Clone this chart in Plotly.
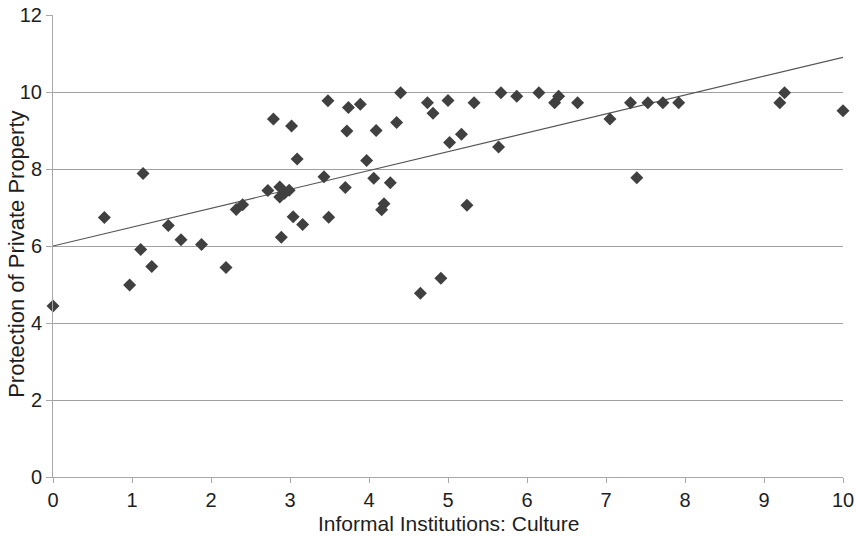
import plotly.graph_objects as go

# Informal institutions (culture score) vs. protection of private property
culture = [0.00, 0.65, 0.97, 1.11, 1.14, 1.25, 1.46, 1.62, 1.88, 2.19,
           2.32, 2.40, 2.72, 2.79, 2.87, 2.87, 2.89, 2.93, 2.99, 3.02,
           3.04, 3.09, 3.16, 3.43, 3.48, 3.49, 3.70, 3.72, 3.74, 3.89,
           3.97, 4.06, 4.09, 4.16, 4.19, 4.27, 4.35, 4.40, 4.65, 4.74,
           4.81, 4.91, 5.00, 5.02, 5.17, 5.24, 5.33, 5.64, 5.67, 5.87,
           6.15, 6.35, 6.40, 6.64, 7.05, 7.31, 7.39, 7.53, 7.72, 7.92,
           9.20, 9.26, 10.00]
property_protection = [4.44, 6.74, 4.99, 5.91, 7.88, 5.47, 6.53, 6.16, 6.04, 5.44,
                       6.95, 7.07, 7.44, 9.30, 7.53, 7.27, 6.23, 7.37, 7.45, 9.12,
                       6.76, 8.26, 6.56, 7.80, 9.77, 6.75, 7.52, 8.99, 9.60, 9.68,
                       8.22, 7.76, 9.00, 6.94, 7.10, 7.64, 9.21, 9.98, 4.77, 9.72,
                       9.45, 5.16, 9.78, 8.69, 8.90, 7.06, 9.72, 8.57, 9.98, 9.89,
                       9.98, 9.72, 9.89, 9.72, 9.30, 9.72, 7.77, 9.72, 9.72, 9.72,
                       9.72, 9.98, 9.51]

# Linear trend line endpoints
trend_x = [0, 10]
trend_y = [6.0, 10.9]

x_ticks = list(range(0, 11))
y_ticks = list(range(0, 13, 2))

x_title = "Informal Institutions: Culture"
y_title = "Protection of Private Property"

FONT = "Liberation Sans, Arial, sans-serif"
TEXT = "#1e1e1e"

fig = go.Figure()
fig.add_trace(go.Scatter(
    x=trend_x, y=trend_y, mode="lines",
    line=dict(color="#555555", width=1.2),
    hoverinfo="skip", showlegend=False,
))
fig.add_trace(go.Scatter(
    x=culture, y=property_protection, mode="markers",
    marker=dict(symbol="diamond", size=10, color="#404040"),
    cliponaxis=False, showlegend=False,
))

fig.update_layout(
    width=857, height=536,
    margin=dict(l=53, r=14, t=15, b=59, autoexpand=False),
    paper_bgcolor="white", plot_bgcolor="white",
    font=dict(family=FONT, color=TEXT),
)
fig.update_xaxes(
    range=[0, 10], tickvals=x_ticks, ticktext=[str(v) for v in x_ticks],
    automargin=False, showgrid=False, zeroline=False,
    showline=True, linecolor="#a8a8a8", linewidth=1,
    ticks="outside", ticklen=5, tickcolor="#a8a8a8",
    tickfont=dict(size=20, family=FONT, color=TEXT),
)
fig.update_yaxes(
    range=[0, 12], tickvals=y_ticks, ticktext=[str(v) for v in y_ticks],
    automargin=False, showgrid=True, gridcolor="#a0a0a0", gridwidth=1,
    zeroline=False,
    showline=True, linecolor="#a8a8a8", linewidth=1,
    ticks="outside", ticklen=6, tickcolor="#a8a8a8",
    tickfont=dict(size=20, family=FONT, color=TEXT),
)

# Axis titles
fig.add_annotation(
    text=x_title, xref="paper", yref="paper", x=0.5, y=-0.0996,
    xanchor="center", yanchor="middle", showarrow=False,
    font=dict(size=21, family=FONT, color=TEXT),
)
fig.add_annotation(
    text=y_title, xref="paper", yref="paper", x=-0.0456, y=0.483,
    xanchor="center", yanchor="middle", textangle=-90, showarrow=False,
    font=dict(size=22, family=FONT, color=TEXT),
)

fig.write_html("out.html")
